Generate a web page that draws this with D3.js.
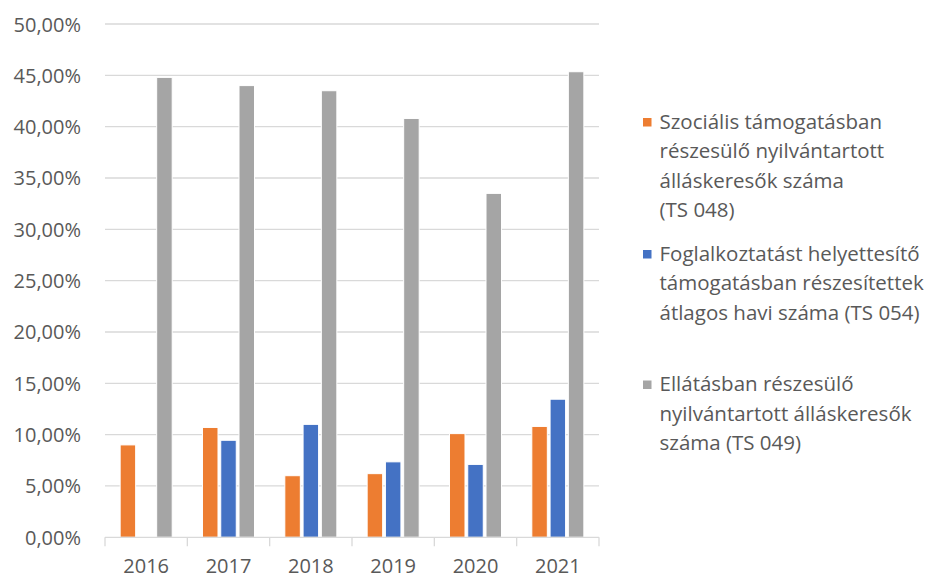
<!DOCTYPE html>
<html>
<head>
<meta charset="utf-8">
<script src="https://cdn.jsdelivr.net/npm/d3@7"></script>
<style>
  body { margin: 0; background: #fff; }
  text { font-family: "Open Sans", sans-serif; fill: #595959; }
</style>
</head>
<body>
<svg id="chart" width="931" height="579"></svg>
<script>
const years = ["2016", "2017", "2018", "2019", "2020", "2021"];
const seriesNames = [
  ["Szociális támogatásban", "részesülő nyilvántartott", "álláskeresők száma", "(TS 048)"],
  ["Foglalkoztatást helyettesítő", "támogatásban részesítettek", "átlagos havi száma (TS 054)"],
  ["Ellátásban részesülő", "nyilvántartott álláskeresők", "száma (TS 049)"]
];
const colors = ["#ED7D31", "#4472C4", "#A5A5A5"];
const szocialis = [9.0, 10.7, 6.0, 6.2, 10.1, 10.8];
const foglalkoztatast = [null, 9.45, 11.0, 7.35, 7.1, 13.45];
const ellatas = [44.8, 44.0, 43.5, 40.8, 33.5, 45.35];
const yTicks = [0, 5, 10, 15, 20, 25, 30, 35, 40, 45, 50];

const seriesValues = [szocialis, foglalkoztatast, ellatas];

const MARGIN = { top: 24, left: 105, right: 332, bottom: 41.7 };
const width = 931, height = 579;
const svg = d3.select("#chart");

const x0 = d3.scaleBand()
  .domain(years)
  .range([MARGIN.left, width - MARGIN.right])
  .paddingInner(0.368)
  .paddingOuter(0.184);

const x1 = d3.scaleBand()
  .domain([0, 1, 2])
  .range([0, x0.bandwidth()])
  .paddingInner(0.151);

const y = d3.scaleLinear()
  .domain([0, 50])
  .range([height - MARGIN.bottom, MARGIN.top]);

const fmt = (v) => d3.format(".2f")(v).replace(".", ",") + "%";

// gridlines
svg.append("g")
  .selectAll("line")
  .data(yTicks.filter((d) => d > 0))
  .join("line")
  .attr("x1", MARGIN.left)
  .attr("x2", width - MARGIN.right)
  .attr("y1", (d) => y(d))
  .attr("y2", (d) => y(d))
  .attr("stroke", "#d9d9d9")
  .attr("stroke-width", 1.3);

// y labels
svg.append("g")
  .selectAll("text")
  .data(yTicks)
  .join("text")
  .attr("x", 81)
  .attr("y", (d) => y(d) + 7.5)
  .attr("text-anchor", "end")
  .style("font-size", "20px")
  .text(fmt);

// bars
const rows = [];
years.forEach((yr, i) => {
  seriesValues.forEach((vals, s) => {
    if (vals[i] != null) rows.push({ year: yr, s: s, v: vals[i] });
  });
});

svg.append("g")
  .selectAll("rect")
  .data(rows)
  .join("rect")
  .attr("x", (d) => x0(d.year) + x1(d.s))
  .attr("width", x1.bandwidth())
  .attr("y", (d) => y(d.v))
  .attr("height", (d) => y(0) - y(d.v))
  .attr("fill", (d) => colors[d.s])
  .attr("stroke", "#fff")
  .attr("stroke-width", 1);

// x axis
const xAxis = d3.axisBottom(x0).tickSize(0).tickFormat((d) => d);
const gx = svg.append("g")
  .attr("transform", `translate(0,${y(0)})`)
  .call(xAxis);
gx.select(".domain").remove();
gx.selectAll("text")
  .attr("dy", null)
  .attr("y", 36)
  .style("font-size", "20px")
  .style("font-family", "Open Sans")
  .attr("fill", "#595959");

svg.append("line")
  .attr("x1", MARGIN.left)
  .attr("x2", width - MARGIN.right)
  .attr("y1", y(0))
  .attr("y2", y(0))
  .attr("stroke", "#d9d9d9")
  .attr("stroke-width", 1.3);

const step = x0.step();
svg.append("g")
  .selectAll("line")
  .data(d3.range(years.length + 1))
  .join("line")
  .attr("x1", (i) => MARGIN.left + i * step)
  .attr("x2", (i) => MARGIN.left + i * step)
  .attr("y1", y(0))
  .attr("y2", y(0) + 9)
  .attr("stroke", "#d9d9d9")
  .attr("stroke-width", 1.3);

// legend
const legendTops = [128.5, 260.5, 391];
const lineH = 29.5;
const legend = svg.append("g");
seriesNames.forEach((lines, s) => {
  const g = legend.append("g");
  g.append("rect")
    .attr("x", 643)
    .attr("y", legendTops[s] - 10.5)
    .attr("width", 8.5)
    .attr("height", 8.5)
    .attr("fill", colors[s]);
  g.selectAll("text")
    .data(lines)
    .join("text")
    .attr("x", 659.5)
    .attr("y", (d, i) => legendTops[s] + i * lineH)
    .style("font-size", "20.5px")
    .text((d) => d);
});
</script>
</body>
</html>
